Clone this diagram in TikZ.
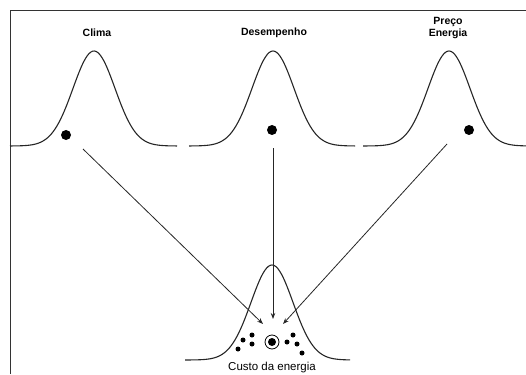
\documentclass[tikz,border=0pt]{standalone}
\usepackage{fontspec}
\setmainfont{Liberation Sans}
\usetikzlibrary{arrows.meta,positioning}

\begin{document}
\begin{tikzpicture}[
    x=1pt, y=-1pt,
    frame/.style={draw=black!80, line width=0.9pt},
    bell/.style={draw=black!85, line width=1.1pt, smooth, samples=90},
    title/.style={font=\fontsize{10.5}{11.5}\selectfont\bfseries, align=center},
    caption/.style={font=\fontsize{11.5}{12}\selectfont},
    bigdot/.style={circle, fill=black, inner sep=0pt, minimum size=10pt},
    smalldot/.style={circle, fill=black, inner sep=0pt, minimum size=5pt},
    ring/.style={circle, draw=black, line width=0.8pt, inner sep=0pt, minimum size=14pt},
    arrow/.style={
      -{Stealth[length=6pt,width=4.5pt]},
      line width=0.8pt,
      draw=black!85,
    },
  ]
    \useasboundingbox (0,0) rectangle (526,374);
    \draw[frame] (10,374) -- (10,10) -- (526,10);

    % input distributions
    \draw[bell] plot[domain=-84:83] ({94+\x},{146-95*exp(-\x*\x/882)});
    \draw[bell] plot[domain=-84:82] ({273+\x},{146-95*exp(-\x*\x/882)});
    \draw[bell] plot[domain=-86:77] ({449+\x},{146-95*exp(-\x*\x/882)});
    \node[title] (clima) at (97,33) {Clima};
    \node[title] (desemp) at (274,33) {Desempenho};
    \node[title] (preco) at (448,28) {Preço\\Energia};
    \node[bigdot] (d1) at (66,135) {};
    \node[bigdot] (d2) at (272,130) {};
    \node[bigdot] (d3) at (469,130) {};

    % output distribution
    \draw[bell] plot[domain=-87:78] ({272+\x},{360-95*exp(-\x*\x/882)});
    \node[caption] (custo) at (272,368) {Custo da energia};
    \node[smalldot, minimum size=8pt] (out) at (272,342) {};
    \node[ring] (outring) at (out) {};
    \node[smalldot] (l1) at (252,335) {};
    \node[smalldot] (l2) at (243,340) {};
    \node[smalldot] (l3) at (252,344) {};
    \node[smalldot] (l4) at (238,349) {};
    \node[smalldot] (r1) at (293,335) {};
    \node[smalldot] (r2) at (287,342) {};
    \node[smalldot] (r3) at (297,344) {};
    \node[smalldot] (r4) at (302,353) {};

    \coordinate (s1) at (83,149);
    \coordinate (s2) at (273,148);
    \coordinate (s3) at (447,144);
    \coordinate (e1) at (263,324);
    \coordinate (e2) at (273,319);
    \coordinate (e3) at (283,324);
    \draw[arrow] (s1) -- (e1);
    \draw[arrow] (s2) -- (e2);
    \draw[arrow] (s3) -- (e3);
  \end{tikzpicture}
\end{document}
